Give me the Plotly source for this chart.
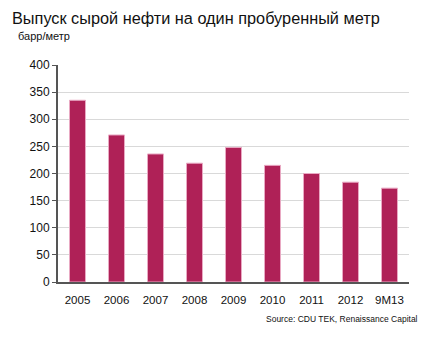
import plotly.graph_objects as go

categories = ["2005", "2006", "2007", "2008", "2009", "2010", "2011", "2012", "9M13"]
values = [335, 271, 236, 219, 248, 215, 200, 184, 173]
y_ticks = [0, 50, 100, 150, 200, 250, 300, 350, 400]

title_text = "Выпуск сырой нефти на один пробуренный метр"
unit_text = "барр/метр"
source_text = "Source: CDU TEK, Renaissance Capital"

SANS = "Liberation Sans, Arial, sans-serif"

L, R, T, B = 58, 23, 65, 71
W, H = 432, 353
plot_w = W - L - R
plot_h = H - T - B


def px(x):
    return (x - L) / plot_w


def py(y):
    return 1 - (y - T) / plot_h


fig = go.Figure(go.Bar(
    x=categories, y=values,
    marker=dict(color="#AF2157", line=dict(color="#E9A9C3", width=1)),
))

fig.update_layout(
    width=W, height=H,
    margin=dict(l=L, r=R, t=T, b=B),
    paper_bgcolor="white", plot_bgcolor="white",
    bargap=0.59,
    showlegend=False,
    font=dict(family=SANS, color="#000000"),
    annotations=[
        dict(text=title_text, x=px(10), y=py(7), xref="paper", yref="paper", showarrow=False,
             xanchor="left", yanchor="top", font=dict(family=SANS, size=16.3, color="#111111")),
        dict(text=unit_text, x=px(16), y=py(28), xref="paper", yref="paper", showarrow=False,
             xanchor="left", yanchor="top", font=dict(family=SANS, size=11, color="#111111")),
        dict(text=source_text, x=px(420), y=py(312), xref="paper", yref="paper", showarrow=False,
             xanchor="right", yanchor="top", font=dict(family=SANS, size=8.5, color="#111111")),
    ],
)

fig.update_xaxes(
    type="category",
    showline=True, linecolor="#555555", linewidth=2,
    ticks="", ticklabelstandoff=6,
    tickfont=dict(size=11.5, family=SANS, color="#111111"),
    showgrid=False,
)
fig.update_yaxes(
    range=[0, 400], tickvals=y_ticks,
    showline=True, linecolor="#555555", linewidth=2,
    ticks="outside", ticklen=4, tickcolor="#555555", tickwidth=1,
    tickfont=dict(size=12, family=SANS, color="#111111"),
    showgrid=True, gridcolor="#D9D9D9", gridwidth=1,
    zeroline=False,
)

fig.write_html("out.html")
